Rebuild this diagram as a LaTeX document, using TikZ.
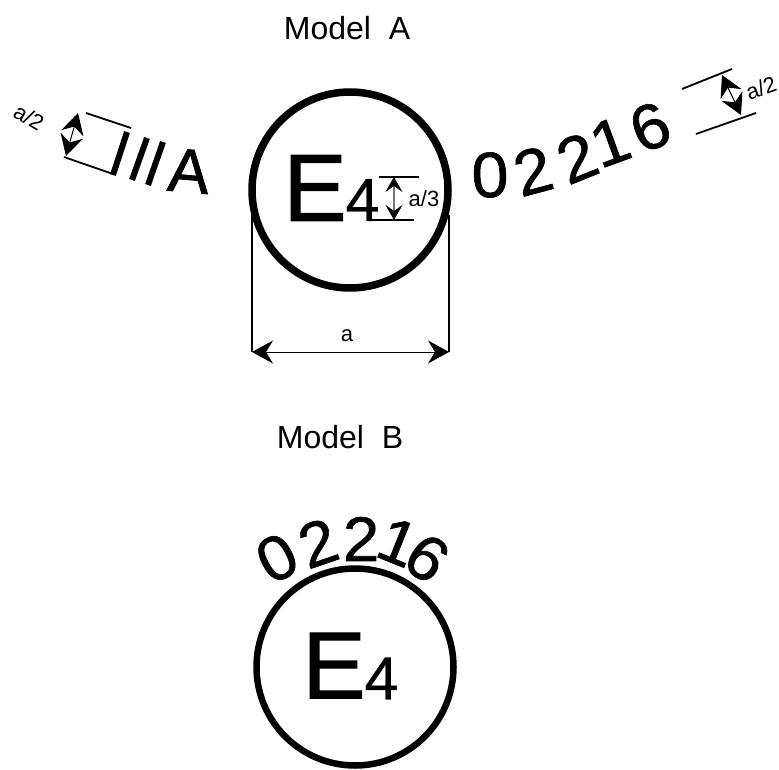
\documentclass[tikz,border=0pt]{standalone}
\usepackage{fontspec}
\setmainfont{Liberation Sans}
\newfontfamily\heavyfont[FakeBold=1.2]{Liberation Sans}
\newfontfamily\midfont[FakeBold=0.6]{Liberation Sans}
\newfontfamily\stampfont[FakeBold=1.0,FakeStretch=1.04]{Liberation Sans}
\usetikzlibrary{arrows.meta}
\tikzset{
  lbl/.style={inner sep=0pt,outer sep=0pt,text=black},
  title/.style={lbl,font=\fontsize{32}{34}\selectfont},
  dimtext/.style={lbl,font=\fontsize{22}{25}\selectfont},
  bigE/.style={lbl,font=\heavyfont\fontsize{95}{100}\selectfont},
  digit/.style={lbl,font=\midfont\fontsize{61}{64}\selectfont},
  stampA/.style={lbl,font=\stampfont\fontsize{64}{66}\selectfont},
  letterA/.style={lbl,font=\heavyfont\fontsize{62}{64}\selectfont},
  stampB/.style={lbl,font=\stampfont\fontsize{63}{65}\selectfont},
  ring/.style={draw=black,line width=7.5pt,circle,minimum size=196pt,inner sep=0pt},
  dimline/.style={draw=black,line width=1.8pt},
  barI/.style={draw=black,line width=6pt},
  dimarrow/.style={draw=black,line width=1pt,{Stealth[length=21pt,width=23pt,inset=7pt]}-{Stealth[length=21pt,width=23pt,inset=7pt]}},
  smallarrow/.style={draw=black!55,line width=1.4pt,{Stealth[black,length=15pt,width=17pt,inset=6pt]}-{Stealth[black,length=15pt,width=17pt,inset=6pt]}}
}
\begin{document}
\begin{tikzpicture}[x=1pt,y=-1pt]
\useasboundingbox (0,0) rectangle (779,770);
\node[title] (ma) at (347,28) {Model\ \ A};
\node[title] (mb) at (340,437) {Model\ \ B};
% Model A
\node[ring] (ca) at (350,190) {};
\node[bigE] (ea) at (315,188) {E};
\node[digit] (fa) at (362.5,200) {4};
\coordinate (a3t1) at (379,177); \coordinate (a3t2) at (419,177);
\coordinate (a3b1) at (372,220); \coordinate (a3b2) at (414,220);
\coordinate (a3u) at (394,177); \coordinate (a3d) at (394,220);
\draw[dimline] (a3t1) -- (a3t2);
\draw[dimline] (a3b1) -- (a3b2);
\draw[smallarrow] (a3u) -- (a3d);
\node[dimtext] (a3) at (424,199) {a/3};
\coordinate (vl1) at (252,215); \coordinate (vl2) at (252,352);
\coordinate (vr1) at (449,215); \coordinate (vr2) at (449,352);
\draw[dimline] (vl1) -- (vl2);
\draw[dimline] (vr1) -- (vr2);
\draw[dimarrow] (vl2) -- (vr2);
\node[dimtext] (adim) at (347,336) {a};
% right stamp
\node[stampA,rotate=2] (r1) at (490,175) {0};
\node[stampA,rotate=15] (r2) at (533,171) {2};
\node[stampA,rotate=22] (r3) at (577,158) {2};
\node[stampA,rotate=20] (r4) at (610,142) {1};
\node[stampA,rotate=22] (r5) at (650,127) {6};
\coordinate (rt1) at (682,89); \coordinate (rt2) at (732,69);
\coordinate (rb1) at (696,134); \coordinate (rb2) at (756,113);
\coordinate (ru) at (722,75); \coordinate (rd) at (741,115);
\draw[dimline] (rt1) -- (rt2);
\draw[dimline] (rb1) -- (rb2);
\draw[dimarrow] (ru) -- (rd);
\node[dimtext,rotate=20] (ra) at (761,88) {a/2};
% left stamp
\coordinate (i1a) at (127,132); \coordinate (i1b) at (113,175);
\coordinate (i2a) at (147,138); \coordinate (i2b) at (132,180);
\coordinate (i3a) at (163,142); \coordinate (i3b) at (148,185);
\draw[barI] (i1a) -- (i1b);
\draw[barI] (i2a) -- (i2b);
\draw[barI] (i3a) -- (i3b);
\node[letterA,rotate=-5] (la) at (189,171) {A};
\coordinate (lt1) at (86,113); \coordinate (lt2) at (131,128);
\coordinate (lb1) at (64,157); \coordinate (lb2) at (113,174);
\coordinate (lu) at (78,113); \coordinate (ld) at (66,156);
\draw[dimline] (lt1) -- (lt2);
\draw[dimline] (lb1) -- (lb2);
\draw[dimarrow] (lu) -- (ld);
\node[dimtext,rotate=-30] (lab) at (29,117) {a/2};
% Model B
\node[ring,line width=6.5pt,minimum size=197pt] (cb) at (355,667) {};
\node[bigE] (eb) at (334,665.5) {E};
\node[digit] (fb) at (381.5,678.5) {4};
\node[stampB,rotate=28] (b1) at (277,558) {0};
\node[stampB,rotate=19] (b2) at (318,543) {2};
\node[stampB] (b3) at (361,539) {2};
\node[stampB,rotate=-22] (b4) at (398,542) {1};
\node[stampB,rotate=-35] (b5) at (427,558) {6};
\end{tikzpicture}
\end{document}
